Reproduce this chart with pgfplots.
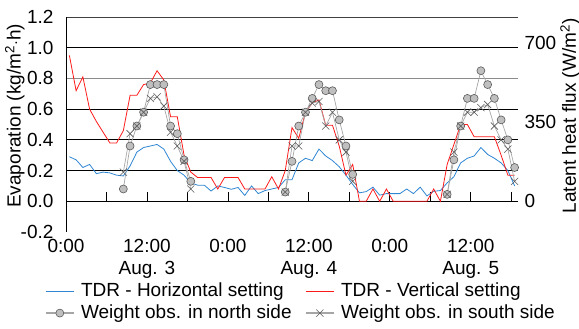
\documentclass[border=0pt]{standalone}
\usepackage{fontspec}
\setmainfont{Liberation Sans}
\usepackage{pgfplots}
\pgfplotsset{compat=1.18}
\definecolor{tdrblue}{HTML}{2F86D3}
\definecolor{tdrred}{HTML}{FF1A1A}
\definecolor{markfill}{HTML}{BFBFBF}
\definecolor{markdraw}{HTML}{5A5A5A}
\definecolor{obsline}{HTML}{A6A6A6}
\begin{document}
\fontsize{19}{22}\selectfont
\begin{tikzpicture}
\begin{axis}[
  at={(0,0)}, anchor=south west,
  scale only axis, width=452pt, height=215pt,
  xmin=0, xmax=67, ymin=-0.2, ymax=1.2,
  axis line style={draw=none},
  major tick length=0pt,
  ytick={-0.2,0,0.2,0.4,0.6,0.8,1.0,1.2},
  yticklabels={-0.2,0.0,0.2,0.4,0.6,0.8,1.0,1.2},
  xtick={0,12,24,36,48,60},
  xticklabels={0:00,12:00\\Aug. 3,0:00,12:00\\Aug. 4,0:00,12:00\\Aug. 5},
  xticklabel style={align=center, font=\fontsize{19}{22}\selectfont, inner sep=2pt, yshift=-5pt},
  yticklabel style={font=\fontsize{19}{22}\selectfont, xshift=-6pt},
  ylabel={Evaporation (kg/m\textsuperscript{2}$\cdot$h)},
  ylabel style={at={(rel axis cs:-0.113,0.54)}, anchor=center, font=\fontsize{19}{22}\selectfont},
  unbounded coords=jump,
  legend columns=2,
  legend cell align=left,
  legend style={at={(rel axis cs:-0.0465,-0.224)}, anchor=north west, draw=none, fill=none,
    inner sep=0pt, font=\fontsize{19}{21}\selectfont,
    nodes={inner xsep=0.6pt, inner ysep=2.6pt},
    /tikz/every odd column/.append style={column sep=6pt},
    /tikz/every even column/.append style={column sep=13pt}},
  legend image code/.code={
    \draw[#1, mark=none, line width=1.3pt] (0pt,0pt) -- (28pt,0pt);
    \path[#1, draw=none] plot coordinates {(14pt,0pt)};
  },
]
% grid and frame
\draw[black, line width=0.8pt] (rel axis cs:0,0.142857) -- (rel axis cs:1,0.142857);
\draw[black, line width=0.8pt] (rel axis cs:0,0.285714) -- (rel axis cs:1,0.285714);
\draw[black, line width=0.8pt] (rel axis cs:0,0.428571) -- (rel axis cs:1,0.428571);
\draw[black, line width=0.8pt] (rel axis cs:0,0.571429) -- (rel axis cs:1,0.571429);
\draw[black!45, line width=0.9pt] (rel axis cs:0,0.714286) -- (rel axis cs:1,0.714286);
\draw[black, line width=0.8pt] (rel axis cs:0,0.857143) -- (rel axis cs:1,0.857143);
\draw[black!75, line width=0.8pt] (rel axis cs:0,1) -- (rel axis cs:1,1);
\draw[black!40, line width=0.8pt] (rel axis cs:0,0) -- (rel axis cs:1,0);
\draw[black!35, line width=0.8pt] (rel axis cs:1,0) -- (rel axis cs:1,1);
\draw[black, line width=0.8pt] (rel axis cs:0,0) -- (rel axis cs:0,1);
\pgfplotsinvokeforeach{6,12,18,24,30,36,42,48,54,60,66}{
  \draw[black, line width=0.8pt] (axis cs:#1,0) -- ++(0pt,9pt);
}
% TDR horizontal
\addplot[color=tdrblue, line width=0.8pt, mark=none] coordinates {
(0.5,0.29) (1.5,0.27) (2.5,0.22) (3.5,0.24) (4.5,0.18) (5.5,0.19) (6.5,0.185) (7.5,0.17)
(8.5,0.165) (9.5,0.23) (10.5,0.32) (11.5,0.35) (12.5,0.36) (13.5,0.37) (14.5,0.34) (15.5,0.26)
(16.5,0.20) (17.5,0.17) (18.5,0.12) (19.5,0.105) (20.5,0.105) (21.5,0.067) (22.5,0.10) (23.5,0.09)
(24.5,0.078) (25.5,0.09) (26.5,0.038) (27.5,0.10) (28.5,0.05) (29.5,0.07) (30.5,0.08) (31.5,0.09)
(32.5,0.14) (33.5,0.14) (34.5,0.25) (35.5,0.28) (36.5,0.265) (37.5,0.34) (38.5,0.295) (39.5,0.265)
(40.5,0.225) (41.5,0.17) (42.5,0.11) (43.5,0.055) (44.5,0.063) (45.5,0.092) (46.5,0.04) (47.5,0.05)
(48.5,0.05) (49.5,0.05) (50.5,0.08) (51.5,0.05) (52.5,0.092) (53.5,0.035) (54.5,0.065) (55.5,0.07)
(56.5,0.12) (57.5,0.16) (58.5,0.25) (59.5,0.28) (60.5,0.295) (61.5,0.35) (62.5,0.305) (63.5,0.28)
(64.5,0.25) (65.5,0.20) (66.5,0.10)
};
\addlegendentry{TDR - Horizontal setting}
% TDR vertical
\addplot[color=tdrred, line width=0.8pt, mark=none] coordinates {
(0.5,0.95) (1.5,0.72) (2.5,0.81) (3.5,0.60) (4.5,0.52) (5.5,0.45) (6.5,0.38) (7.5,0.38)
(8.5,0.46) (9.5,0.69) (10.5,0.69) (11.5,0.76) (12.5,0.77) (13.5,0.85) (14.5,0.79) (15.5,0.55)
(16.5,0.55) (17.5,0.30) (18.5,0.19) (19.5,0.155) (20.5,0.155) (21.5,0.155) (22.5,0.08) (23.5,0.155)
(24.5,0.155) (25.5,0.155) (26.5,0.08) (27.5,0.08) (28.5,0.08) (29.5,0.08) (30.5,0.16) (31.5,0.08)
(32.5,0.20) (33.5,0.48) (34.5,0.41) (35.5,0.58) (36.5,0.64) (37.5,0.66) (38.5,0.495) (39.5,0.495)
(40.5,0.36) (41.5,0.17) (42.5,0.24) (43.5,0) (44.5,0) (45.5,0.08) (46.5,0) (47.5,0.08)
(48.5,0) (49.5,0) (50.5,0) (51.5,0) (52.5,0) (53.5,0) (54.5,0.08) (55.5,0)
(56.5,0.24) (57.5,0.37) (58.5,0.50) (59.5,0.50) (60.5,0.42) (61.5,0.42) (62.5,0.42) (63.5,0.42)
(64.5,0.30) (65.5,0.17) (66.5,0.17)
};
\addlegendentry{TDR - Vertical setting}
% north
\addplot[color=obsline, line width=0.7pt, mark=*, mark size=4pt,
  mark options={fill=markfill, draw=markdraw, line width=0.6pt}] coordinates {
(8.5,0.08) (9.5,0.36) (10.5,0.49) (11.5,0.58) (12.5,0.76) (13.5,0.76) (14.5,0.76) (15.5,0.49)
(16.5,0.44) (17.5,0.27) (18.5,0.13) (19.5,nan)
(32.5,0.06) (33.5,0.26) (34.5,0.49) (35.5,0.58) (36.5,0.67) (37.5,0.76) (38.5,0.72) (39.5,0.72)
(40.5,0.53) (41.5,0.36) (42.5,0.175) (43.5,nan)
(56.5,0.045) (57.5,0.27) (58.5,0.49) (59.5,0.67) (60.5,0.67) (61.5,0.85) (62.5,0.76) (63.5,0.67)
(64.5,0.53) (65.5,0.40) (66.5,0.22)
};
\addlegendentry{Weight obs. in north side}
% south
\addplot[color=obsline, line width=0.7pt, mark=x, mark size=5pt,
  mark options={draw=markdraw, line width=0.6pt}] coordinates {
(8.5,0.19) (9.5,0.44) (10.5,0.49) (11.5,0.58) (12.5,0.67) (13.5,0.68) (14.5,0.62) (15.5,0.45)
(16.5,0.36) (17.5,0.26) (18.5,0.08) (19.5,nan)
(32.5,0.06) (33.5,0.36) (34.5,0.36) (35.5,0.58) (36.5,0.64) (37.5,0.65) (38.5,0.49) (39.5,0.58)
(40.5,0.40) (41.5,0.32) (42.5,0.13) (43.5,nan)
(56.5,0.045) (57.5,0.32) (58.5,0.49) (59.5,0.58) (60.5,0.58) (61.5,0.61) (62.5,0.63) (63.5,0.49)
(64.5,0.40) (65.5,0.34) (66.5,0.13)
};
\addlegendentry{Weight obs. in south side}
\end{axis}
\begin{axis}[
  at={(0,0)}, anchor=south west,
  scale only axis, width=452pt, height=215pt,
  xmin=0, xmax=67, ymin=-136, ymax=816,
  axis x line=none, axis y line*=right,
  axis line style={draw=none},
  major tick length=0pt,
  ytick={0,350,700}, yticklabels={0,350,700},
  yticklabel style={font=\fontsize{19}{22}\selectfont, xshift=0pt},
  ylabel={Latent heat flux (W/m\textsuperscript{2})},
  ylabel style={at={(rel axis cs:1.115,0.54)}, anchor=center, rotate=0, font=\fontsize{19}{22}\selectfont},
]
\addplot[draw=none, forget plot] coordinates {(0,0)};
\end{axis}
\pgfresetboundingbox
\path (-66pt,-97pt) rectangle (513pt,232pt);
\end{tikzpicture}
\end{document}
